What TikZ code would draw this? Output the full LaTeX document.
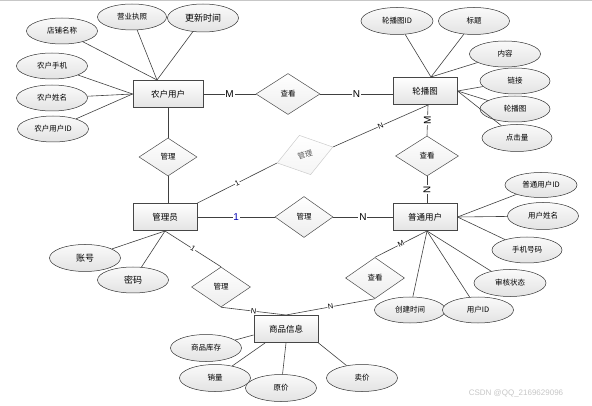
\documentclass[tikz,border=0pt]{standalone}
\usepackage{fontspec}
\setmainfont{Liberation Sans}
\newfontfamily\cjk{Noto Sans CJK SC}
\usepackage{tikz}
\usetikzlibrary{positioning,shapes.geometric,calc}

\begin{document}
\begin{tikzpicture}[
    x=1pt, y=-1pt,
    link/.style={draw=black!75, line width=0.6pt},
    entity/.style={
        draw=gray!55!black,
        line width=1pt,
        top color=white,
        bottom color=gray!22,
        minimum width=64pt,
        minimum height=27pt,
        inner sep=2pt,
        font=\cjk\fontsize{8.5}{10}\selectfont
    },
    attr/.style={
        ellipse,
        draw=black!80,
        line width=0.5pt,
        top color=gray!4,
        bottom color=gray!22,
        minimum width=71pt,
        minimum height=26pt,
        inner sep=0pt,
        font=\cjk\fontsize{7.5}{8}\selectfont
    },
    bigattr/.style={attr, font=\cjk\fontsize{9}{10}\selectfont},
    relation/.style={
        diamond,
        draw=black!70,
        line width=0.5pt,
        top color=white,
        bottom color=gray!14,
        minimum width=60pt,
        minimum height=41pt,
        inner sep=0pt,
        font=\cjk\fontsize{7.5}{8}\selectfont
    },
    faded/.style={draw=gray!40, bottom color=gray!8, text=black!65},
    card/.style={fill=white, inner sep=0.8pt, font=\fontsize{10}{10}\selectfont},
    tinycard/.style={fill=white, inner sep=0.5pt, sloped, font=\fontsize{7.5}{8}\selectfont}
]
\useasboundingbox (0,0) rectangle (592,406);

% top frame line
\coordinate (topL) at (0,0.75);
\coordinate (topR) at (592,0.75);
\draw[black!22, line width=1.5pt] (topL) -- (topR);

% Entities
\node[entity, minimum width=70pt] (farmer) at (168,94) {农户用户};
\node[entity] (carousel) at (425,91) {轮播图};
\node[entity] (admin) at (165,217) {管理员};
\node[entity] (user) at (425,217) {普通用户};
\node[entity] (goods) at (286,329) {商品信息};

% Relations
\node[relation, minimum width=64pt] (viewTop) at (288,94) {查看};
\node[relation, minimum width=58pt, minimum height=38pt] (mgrFarmer) at (168,157) {管理};
\node[relation, faded, minimum width=58pt, rotate=16] (mgrCarousel) at (305,155) {管理};
\node[relation, minimum width=58pt] (mgrUser) at (304,217) {管理};
\node[relation, minimum width=63pt, minimum height=40pt] (viewUser) at (427,156) {查看};
\node[relation, minimum width=59pt, minimum height=40pt] (mgrGoods) at (221,287) {管理};
\node[relation, minimum width=59pt] (viewGoods) at (375,278) {查看};

% Attributes of farmer
\node[attr] (shop) at (62,31) {店铺名称};
\node[attr, minimum width=69pt] (license) at (132,17) {营业执照};
\node[bigattr, minimum height=28pt] (updTime) at (203,18) {更新时间};
\node[attr] (fphone) at (52,66) {农户手机};
\node[attr] (fname) at (52,98) {农户姓名};
\node[attr] (fid) at (53,129) {农户用户ID};

% Attributes of carousel
\node[attr, minimum width=72pt, minimum height=27pt] (cid) at (397,21) {轮播图ID};
\node[attr, minimum height=27pt] (title) at (474,21) {标题};
\node[attr] (content) at (505,54) {内容};
\node[attr, minimum width=70pt] (clink) at (515,81) {链接};
\node[attr, minimum width=70pt] (cpic) at (515,109) {轮播图};
\node[attr, minimum width=70pt, minimum height=27pt] (clicks) at (517,138) {点击量};

% Attributes of user
\node[attr, minimum width=72pt, minimum height=25pt] (uid) at (541,185) {普通用户ID};
\node[attr, minimum height=27pt] (uname) at (543,216) {用户姓名};
\node[attr, minimum width=70pt] (uphone) at (527,250) {手机号码};
\node[attr, minimum width=72pt, minimum height=27pt] (ustate) at (510,283) {审核状态};
\node[attr] (ctime) at (410,310) {创建时间};
\node[attr] (userid) at (478,310) {用户ID};

% Attributes of admin
\node[bigattr, minimum height=27pt] (account) at (85,258) {账号};
\node[bigattr] (pwd) at (133,280) {密码};

% Attributes of goods
\node[attr, minimum height=27pt] (stock) at (206,348) {商品库存};
\node[attr, minimum height=27pt] (sales) at (215,378) {销量};
\node[attr, minimum height=27pt] (orig) at (281,388) {原价};
\node[attr, minimum height=27pt] (sell) at (362,378) {卖价};

% Attribute links
\foreach \a in {shop,license,updTime}
    \draw[link] (\a) -- ([xshift=-11pt]farmer.north);
\foreach \a in {fphone,fname,fid}
    \draw[link] (\a) -- (farmer.west);
\foreach \a in {cid,title,content}
    \draw[link] (\a) -- ([xshift=6pt]carousel.north);
\foreach \a in {clink,cpic,clicks}
    \draw[link] (\a) -- (carousel.east);
\foreach \a in {uid,uname,uphone}
    \draw[link] (\a) -- (user.east);
\foreach \a in {ustate,ctime,userid}
    \draw[link] (\a) -- ([xshift=2pt]user.south);
\foreach \a in {account,pwd}
    \draw[link] (\a) -- (admin.south);
\draw[link] (stock) -- ([yshift=-6pt]goods.west);
\draw[link] (sales) -- ([xshift=-21pt]goods.south);
\draw[link] (orig) -- (goods.south);
\draw[link] (sell) -- (goods.south east);

% Relation links
\draw[link] (farmer.east) -- node[card] {M} (viewTop.west);
\draw[link] (viewTop.east) -- node[card] {N} (viewTop.east -| carousel.west);
\draw[link] (farmer.south) -- (mgrFarmer.north);
\draw[link] (mgrFarmer.south) -- (mgrFarmer.south |- admin.north);

\draw[link] (admin.north east) -- node[tinycard] {1} (mgrCarousel.west);
\draw[link] (mgrCarousel.east) -- node[tinycard] {N} ([xshift=3pt]carousel.south);

\draw[link] (admin.east) -- node[card, text=blue!70!black] {1} (mgrUser.west);
\draw[link] (mgrUser.east) -- node[card] {N} (user.west);

\draw[link] ([xshift=3pt]carousel.south) -- node[card, rotate=90] {M} (viewUser.north);
\draw[link] (viewUser.south) -- node[card, rotate=90] {N} (viewUser.south |- user.north);

\draw[link] (admin.south) -- node[tinycard] {1} (mgrGoods.north);
\draw[link] (mgrGoods.south) -- node[tinycard] {N} (goods.north);

\draw[link] ([xshift=2pt]user.south) -- node[tinycard] {M} (viewGoods.north);
\draw[link] (viewGoods.south) -- node[tinycard] {N} (goods.north);

% watermark
\node[text=gray!45, font=\fontsize{8}{8}\selectfont] (mark) at (516,393) {CSDN @QQ\_2169629096};

\end{tikzpicture}
\end{document}
